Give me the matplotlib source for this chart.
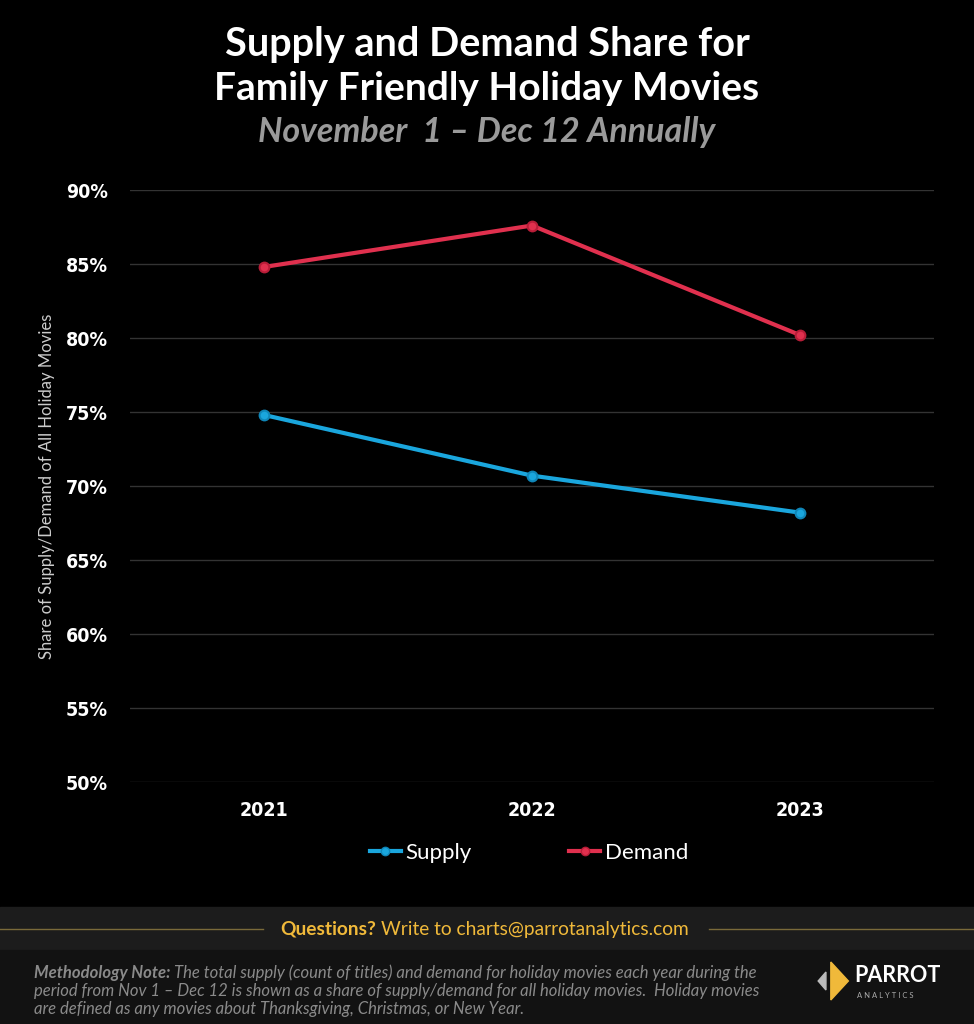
import matplotlib
matplotlib.use("Agg")
import matplotlib.pyplot as plt
from matplotlib.lines import Line2D

years = ["2021", "2022", "2023"]
supply = [74.8, 70.7, 68.2]
demand = [84.8, 87.6, 80.2]
yticks = [50, 55, 60, 65, 70, 75, 80, 85, 90]
ytick_labels = [f"{v}%" for v in yticks]

SUPPLY_C = "#1aa6dd"
DEMAND_C = "#e0304e"

fig = plt.figure(figsize=(9.74, 10.24), dpi=100, facecolor="black")
ax = fig.add_axes([130/974, 1-782/1024, (934-130)/974, (782-190)/1024])
ax.set_facecolor("black")
x = range(len(years))
ax.plot(x, supply, color=SUPPLY_C, lw=3, marker="o", ms=7, mec="#0f86b8", mew=1.5, label="Supply", zorder=3)
ax.plot(x, demand, color=DEMAND_C, lw=3, marker="o", ms=7, mec="#b81d38", mew=1.5, label="Demand", zorder=3)
ax.set_xlim(-0.5, 2.5)
ax.set_ylim(50, 90)
ax.set_yticks(yticks)
ax.set_yticklabels(ytick_labels)
ax.set_xticks(list(x))
ax.set_xticklabels(years)
ax.grid(axis="y", color="#333333", lw=1)
ax.set_axisbelow(True)
for s in ax.spines.values():
    s.set_visible(False)
ax.tick_params(length=0, colors="white", labelsize=14)
ax.tick_params(axis="y", pad=16)
ax.tick_params(axis="x", pad=14)
for lab in ax.get_yticklabels() + ax.get_xticklabels():
    lab.set_fontfamily(["DejaVu Sans"])
    lab.set_fontstretch("condensed")
    lab.set_fontweight("bold")
ax.set_ylabel("Share of Supply/Demand of All Holiday Movies", color="#cccccc", fontsize=12,
              family="Lato", labelpad=2)
ax.yaxis.set_label_coords(-0.093, 0.5)

fig.text(0.5, 0.957, "Supply and Demand Share for", ha="center", va="center", color="white",
         fontsize=28.5, fontweight="bold", family="Lato")
fig.text(0.5, 0.914, "Family Friendly Holiday Movies", ha="center", va="center", color="white",
         fontsize=28, fontweight="bold", family="Lato")
fig.text(0.5, 0.871, "November  1 \u2013 Dec 12 Annually", ha="center", va="center", color="#9a9a9a",
         fontsize=24.5, fontweight="bold", style="italic", family="Lato")

handles = [Line2D([0], [0], color=SUPPLY_C, lw=3, marker="o", ms=6, mec="#0f86b8"),
           Line2D([0], [0], color=DEMAND_C, lw=3, marker="o", ms=6, mec="#b81d38")]
fig.legend(handles, ["Supply", "Demand"], loc="center", bbox_to_anchor=(0.543, 1-853/1024), ncol=2,
           frameon=False, labelcolor="white", prop={"family": "Lato", "size": 16},
           handlelength=1.4, handletextpad=0.2, columnspacing=4.4)

# footer bands
fig.patches.append(plt.Rectangle((0, 1-950/1024), 1, 43/1024, transform=fig.transFigure,
                                 color="#1c1c1c", zorder=0))
fig.patches.append(plt.Rectangle((0, 0), 1, 74/1024, transform=fig.transFigure,
                                 color="#121212", zorder=0))
fig.add_artist(Line2D([0, 0.27], [1-929/1024]*2, color="#7a6a3a", lw=1))
fig.add_artist(Line2D([0.728, 1], [1-929/1024]*2, color="#7a6a3a", lw=1))

renderer = fig.canvas.get_renderer()

def two_part(x0, y0, bold_txt, rest_txt, size, color, italic, gap_px):
    t = fig.text(x0, y0, bold_txt, ha="left", va="center", color=color, fontsize=size,
                 fontweight="bold", style="italic" if italic else "normal", family="Lato")
    bb = t.get_window_extent(renderer=renderer)
    fig.text((bb.x1 + gap_px) / fig.bbox.width, y0, rest_txt, ha="left", va="center", color=color,
             fontsize=size, style="italic" if italic else "normal", family="Lato")

two_part(0.288, 1-929/1024, "Questions?", "Write to charts@parrotanalytics.com", 13.8, "#f0b93a", False, 5)

two_part(0.035, 1-973/1024, "Methodology Note:",
         "The total supply (count of titles) and demand for holiday movies each year during the",
         12, "#8a8a8a", True, 4)
fig.text(0.035, 1-991/1024, "period from Nov 1 \u2013 Dec 12 is shown as a share of supply/demand for all holiday movies.  Holiday movies",
         ha="left", va="center", color="#8a8a8a", fontsize=12, style="italic", family="Lato")
fig.text(0.035, 1-1009/1024, "are defined as any movies about Thanksgiving, Christmas, or New Year.",
         ha="left", va="center", color="#8a8a8a", fontsize=12, style="italic", family="Lato")

fig.text(0.877, 1-976/1024, "PARROT", ha="left", va="center", color="white", fontsize=15.5,
         fontweight="bold", family="Lato")
fig.text(0.880, 1-995/1024, "A N A L Y T I C S", ha="left", va="center", color="#aaaaaa", fontsize=5.5,
         family="Lato")
fig.patches.append(plt.Polygon([(0.853, 1-962/1024), (0.871, 1-981/1024), (0.853, 1-1000/1024)],
                               closed=True, transform=fig.transFigure, color="#f0b93a"))
fig.patches.append(plt.Polygon([(0.848, 1-972/1024), (0.840, 1-981/1024), (0.848, 1-990/1024)],
                               closed=True, transform=fig.transFigure, color="#bbbbbb"))

fig.savefig("out.png", dpi=100, facecolor="black")
